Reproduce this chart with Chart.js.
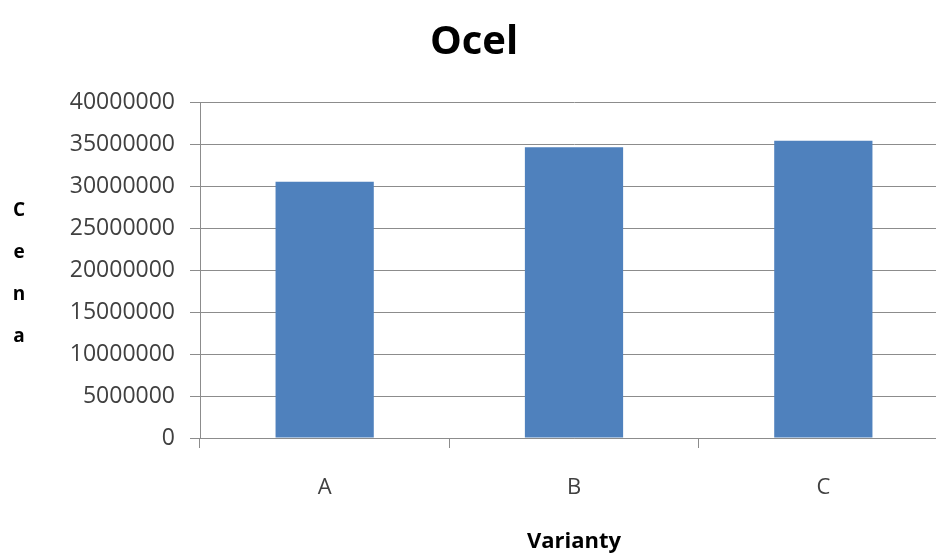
<!DOCTYPE html>
<html>
<head>
<meta charset="utf-8">
<script src="https://cdn.jsdelivr.net/npm/chart.js@4.4.1/dist/chart.umd.min.js"></script>
<style>
  html, body { margin: 0; padding: 0; background: #fff; overflow: hidden; }
  #wrap { width: 948px; height: 555px; }
</style>
</head>
<body>
<div id="wrap"><canvas id="chart-bar"></canvas></div>
<script>
// steel price per variant
var categories = ['A', 'B', 'C'];
var prices = [30500000, 34600000, 35400000];
var chartTitle = 'Ocel';
var yTitle = 'Cena';
var xTitle = 'Varianty';
var yMin = 0;
var yMax = 40000000;
var yStep = 5000000;

var gridGray = '#8c8c8c';

// y title written as letters stacked top to bottom
var stackedYTitle = {
  id: 'stackedYTitle',
  afterDraw: function (chart) {
    var ctx = chart.ctx;
    var area = chart.chartArea;
    var letters = yTitle.split('');
    var gap = 42;
    var mid = (area.top + area.bottom) / 2 + 4;
    ctx.save();
    ctx.font = 'bold 19px "Open Sans"';
    ctx.fillStyle = '#000';
    ctx.textAlign = 'center';
    ctx.textBaseline = 'middle';
    letters.forEach(function (ch, i) {
      ctx.fillText(ch, 19, mid + (i - (letters.length - 1) / 2) * gap);
    });
    ctx.restore();
  }
};

var ctx1 = document.getElementById('chart-bar').getContext('2d');

new Chart(ctx1, {
  type: 'bar',
  data: {
    labels: categories,
    datasets: [{
      label: yTitle,
      data: prices,
      backgroundColor: '#4f81bd',
      borderWidth: 0,
      categoryPercentage: 1,
      barPercentage: 0.394
    }]
  },
  plugins: [stackedYTitle],
  options: {
    responsive: true,
    maintainAspectRatio: false,
    animation: false,
    layout: { padding: { left: 0, right: 0, top: 0, bottom: 0 } },
    plugins: {
      legend: { display: false },
      tooltip: { enabled: false },
      title: {
        display: true,
        text: chartTitle,
        color: '#000',
        font: { family: 'Open Sans', size: 40, weight: 'bold' },
        padding: { top: 19, bottom: 35 }
      }
    },
    scales: {
      x: {
        afterFit: function (scale) { scale.height = 117; },
        grid: {
          display: true,
          drawOnChartArea: false,
          drawTicks: true,
          tickLength: 10,
          color: gridGray
        },
        border: { display: true, color: gridGray },
        ticks: {
          color: '#404040',
          padding: 27,
          font: { family: 'Open Sans', size: 22 }
        },
        title: {
          display: true,
          text: xTitle,
          color: '#000',
          font: { family: 'Open Sans', size: 22, weight: 'bold' },
          padding: { top: 0, bottom: 0 }
        }
      },
      y: {
        min: yMin,
        max: yMax,
        afterFit: function (scale) { scale.width = 200; },
        grid: {
          display: true,
          drawOnChartArea: true,
          drawTicks: true,
          tickLength: 10,
          color: gridGray
        },
        border: { display: true, color: gridGray },
        ticks: {
          stepSize: yStep,
          color: '#404040',
          padding: 15,
          font: { family: 'Open Sans', size: 23 },
          callback: function (value) { return String(value); }
        }
      }
    }
  }
});
</script>
</body>
</html>
